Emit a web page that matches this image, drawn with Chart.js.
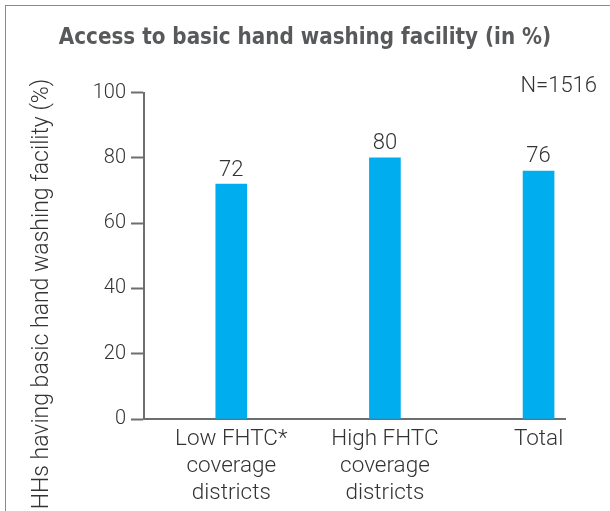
<!DOCTYPE html>
<html lang="en">
<head>
    <meta charset="UTF-8">
    <title>Access to basic hand washing facility</title>
    <script src="https://cdn.jsdelivr.net/npm/chart.js"></script>
    <style>
        html, body {
            margin: 0;
            padding: 0;
            background-color: #ffffff;
        }
        #wrap {
            width: 610px;
            height: 511px;
        }
    </style>
</head>
<body>
    <div id="wrap"><canvas id="chart"></canvas></div>

    <script>
        const categories = [
            ['Low FHTC*', 'coverage', 'districts'],
            ['High FHTC', 'coverage', 'districts'],
            ['Total']
        ];
        const positions = [1, 2, 3];
        const values = [72, 80, 76];
        const yTicks = [0, 20, 40, 60, 80, 100];
        const sampleNote = 'N=1516';
        const yTitle = 'HHs having basic hand washing facility (%)';

        const textColor = '#333333';
        const axisColor = '#6d6e71';
        const lightFont = 'Roboto, "Liberation Sans", Arial, sans-serif';

        // frame, rotated y title, N note and the value labels on top of bars
        const extras = {
            id: 'extras',
            beforeDraw(chart) {
                const c = chart.ctx;
                c.save();
                c.strokeStyle = '#8a8a8a';
                c.lineWidth = 1;
                c.strokeRect(5.5, 5.5, 700, 700);
                c.restore();
            },
            afterDraw(chart) {
                const c = chart.ctx;
                c.save();
                c.fillStyle = textColor;
                c.font = '300 22px ' + lightFont;

                c.textAlign = 'right';
                c.textBaseline = 'middle';
                c.fillText(sampleNote, 597, 86);

                c.save();
                c.translate(42, 294);
                c.rotate(-Math.PI / 2);
                c.textAlign = 'center';
                c.font = '300 23px ' + lightFont;
                c.fillText(yTitle, 0, 0);
                c.restore();

                c.font = '300 22px ' + lightFont;
                c.textAlign = 'center';
                c.textBaseline = 'bottom';
                const meta = chart.getDatasetMeta(0);
                meta.data.forEach((bar, i) => {
                    c.fillText(String(values[i]), bar.x, bar.y - 3);
                });
                c.restore();
            }
        };

        new Chart(document.getElementById('chart'), {
            type: 'bar',
            data: {
                datasets: [{
                    data: positions.map((p, i) => ({ x: p, y: values[i] })),
                    backgroundColor: '#00aeef',
                    barThickness: 31
                }]
            },
            options: {
                responsive: true,
                maintainAspectRatio: false,
                animation: false,
                layout: {
                    padding: { left: 0, right: 0, top: 0, bottom: -3 }
                },
                plugins: {
                    legend: { display: false },
                    tooltip: { enabled: false },
                    title: {
                        display: true,
                        text: 'Access to basic hand washing facility (in %)',
                        color: '#58595b',
                        font: {
                            family: '"Liberation Sans Narrow", "DejaVu Sans Condensed", Arial, sans-serif',
                            size: 22.2,
                            weight: 'bold'
                        },
                        padding: { top: 25, bottom: 41 }
                    }
                },
                scales: {
                    x: {
                        type: 'linear',
                        offset: false,
                        min: 0.432,
                        max: 3.172,
                        afterBuildTicks: (scale) => {
                            scale.ticks = positions.map(v => ({ value: v }));
                        },
                        ticks: {
                            autoSkip: false,
                            maxRotation: 0,
                            padding: 7,
                            color: textColor,
                            font: { family: lightFont, size: 22.5, weight: 300, lineHeight: 1.2 },
                            callback: (value) => categories[positions.indexOf(value)]
                        },
                        grid: { display: true, offset: false, drawOnChartArea: false, drawTicks: false },
                        border: { color: axisColor, width: 2 }
                    },
                    y: {
                        min: 0,
                        max: 100,
                        afterFit: (scale) => { scale.width = 144; },
                        afterBuildTicks: (scale) => {
                            scale.ticks = yTicks.map(v => ({ value: v }));
                        },
                        ticks: {
                            padding: 5,
                            color: textColor,
                            font: { family: lightFont, size: 20, weight: 300 }
                        },
                        grid: {
                            drawOnChartArea: false,
                            tickLength: 13,
                            tickColor: axisColor,
                            tickWidth: 2
                        },
                        border: { color: axisColor, width: 2 }
                    },
                    // empty right-hand axis, only reserves the margin right of the plot
                    yRight: {
                        position: 'right',
                        afterFit: (scale) => { scale.width = 45; },
                        ticks: { display: false },
                        grid: { display: false },
                        border: { display: false }
                    }
                }
            },
            plugins: [extras]
        });
    </script>
</body>
</html>
